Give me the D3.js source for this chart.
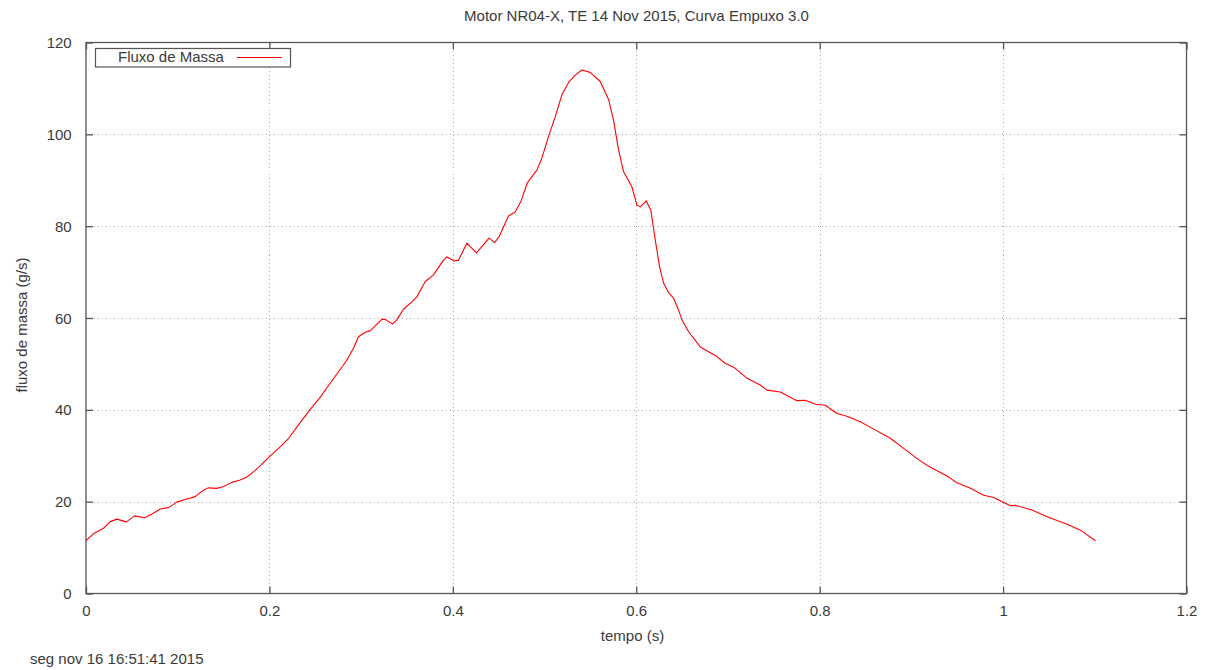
<!DOCTYPE html>
<html>
<head>
<meta charset="utf-8">
<script src="https://cdn.jsdelivr.net/npm/d3@7"></script>
<style>
  html, body { margin: 0; padding: 0; background: #fff; }
  svg { display: block; }
  text { font-family: "Liberation Sans", Arial, sans-serif; fill: #3a3a3a; }
</style>
</head>
<body>
<svg id="chart" width="1211" height="670"></svg>
<script>
// Mass flow measurement: time (s) and mass flow (g/s)
const timeS = [
  0, 0.008, 0.019, 0.026, 0.0335, 0.044, 0.053, 0.064, 0.072, 0.081,
  0.090, 0.099, 0.110, 0.119, 0.126, 0.133, 0.1425, 0.150, 0.159, 0.168,
  0.175, 0.184, 0.191, 0.200, 0.212, 0.221, 0.230, 0.244, 0.2545, 0.2662,
  0.2844, 0.2916, 0.2971, 0.3044, 0.3098, 0.3153, 0.3226, 0.3262, 0.3345, 0.3389,
  0.3462, 0.3553, 0.3607, 0.3698, 0.3789, 0.3898, 0.3935, 0.4015, 0.4062, 0.4153,
  0.4258, 0.4395, 0.4456, 0.4507, 0.4607, 0.468, 0.4744, 0.4814, 0.4916, 0.4971,
  0.5043, 0.5116, 0.5189, 0.5262, 0.5334, 0.5407, 0.5498, 0.5607, 0.5698, 0.5752,
  0.5807, 0.5861, 0.5952, 0.6007, 0.6044, 0.6109, 0.616, 0.6207, 0.6254, 0.6298,
  0.6352, 0.6404, 0.6462, 0.6498, 0.6571, 0.6698, 0.688, 0.6971, 0.7062, 0.7207,
  0.7352, 0.7425, 0.7571, 0.7662, 0.7753, 0.7844, 0.7953, 0.8062, 0.8189, 0.8298,
  0.8443, 0.8589, 0.877, 0.8916, 0.908, 0.9207, 0.9389, 0.9498, 0.9643, 0.9789,
  0.9898, 1.0007, 1.008, 1.0134, 1.0316, 1.048, 1.0698, 1.0843, 1.1007
];
const massFlow = [
  11.5, 13.0, 14.2, 15.6, 16.2, 15.6, 16.9, 16.5, 17.3, 18.4,
  18.7, 19.9, 20.6, 21.1, 22.2, 23.0, 22.9, 23.3, 24.2, 24.7,
  25.3, 26.7, 28.0, 29.8, 32.0, 33.8, 36.3, 40.0, 42.5, 45.8,
  50.8, 53.4, 55.9, 56.9, 57.2, 58.3, 59.7, 59.7, 58.7, 59.6,
  61.9, 63.5, 64.6, 67.9, 69.4, 72.6, 73.3, 72.4, 72.6, 76.3,
  74.2, 77.4, 76.4, 77.8, 82.2, 83.1, 85.5, 89.5, 92.2, 94.8,
  99.5, 103.8, 108.6, 111.3, 112.9, 114.0, 113.5, 111.5, 107.6, 103.1,
  96.6, 91.9, 88.6, 84.6, 84.2, 85.5, 83.4, 77.0, 71.2, 67.6,
  65.5, 64.4, 61.7, 59.6, 57.0, 53.7, 51.6, 50.1, 49.3, 46.9,
  45.4, 44.3, 43.9, 42.9, 42.0, 42.1, 41.2, 41.0, 39.2, 38.6,
  37.4, 35.8, 33.8, 31.6, 29.1, 27.5, 25.6, 24.1, 22.9, 21.4,
  20.9, 19.8, 19.1, 19.2, 18.2, 16.7, 15.1, 13.8, 11.5
];
const xTicks = [0, 0.2, 0.4, 0.6, 0.8, 1, 1.2];
const yTicks = [0, 20, 40, 60, 80, 100, 120];

const titleText = "Motor NR04-X, TE 14 Nov 2015, Curva Empuxo 3.0";
const xLabel = "tempo (s)";
const yLabel = "fluxo de massa (g/s)";
const seriesName = "Fluxo de Massa";
const stamp = "seg nov 16 16:51:41 2015";

const FS = 15;
const svg = d3.select("#chart");
const m = { left: 86, top: 42.5, right: 1186.5, bottom: 593.5 };

const x = d3.scaleLinear().domain([0, 1.2]).range([m.left, m.right]);
const y = d3.scaleLinear().domain([0, 120]).range([m.bottom, m.top]);

const frameColor = "#555";
const tickLen = 7;

// grid (dotted)
const grid = svg.append("g").attr("stroke", "#aaa").attr("stroke-width", 1)
  .attr("stroke-dasharray", "1,3").attr("shape-rendering", "crispEdges");
grid.selectAll("line.gx").data(xTicks.slice(1, -1)).join("line")
  .attr("x1", d => Math.round(x(d)) + 0.5).attr("x2", d => Math.round(x(d)) + 0.5)
  .attr("y1", m.top).attr("y2", m.bottom);
grid.selectAll("line.gy").data(yTicks.slice(1, -1)).join("line")
  .attr("y1", d => Math.round(y(d)) + 0.5).attr("y2", d => Math.round(y(d)) + 0.5)
  .attr("x1", m.left).attr("x2", m.right);

// axes with inward ticks on all four sides
const fmt = d => String(d);
const axB = svg.append("g").attr("transform", `translate(0,${m.bottom})`)
  .call(d3.axisBottom(x).tickValues(xTicks).tickFormat(fmt).tickSizeInner(-tickLen).tickSizeOuter(0));
const axT = svg.append("g").attr("transform", `translate(0,${m.top})`)
  .call(d3.axisTop(x).tickValues(xTicks).tickFormat("").tickSizeInner(-tickLen).tickSizeOuter(0));
const axL = svg.append("g").attr("transform", `translate(${m.left},0)`)
  .call(d3.axisLeft(y).tickValues(yTicks).tickFormat(fmt).tickSizeInner(-tickLen).tickSizeOuter(0));
const axR = svg.append("g").attr("transform", `translate(${m.right},0)`)
  .call(d3.axisRight(y).tickValues(yTicks).tickFormat("").tickSizeInner(-tickLen).tickSizeOuter(0));

[axB, axT, axL, axR].forEach(a => {
  a.select(".domain").remove();
  a.selectAll(".tick line").attr("stroke", frameColor).attr("stroke-width", 1.3);
  a.selectAll("text").attr("font-size", FS).attr("fill", "#3a3a3a")
    .style("font-family", '"Liberation Sans", Arial, sans-serif');
});
axB.selectAll(".tick text").attr("y", 22).attr("dy", 0);
axL.selectAll(".tick text").attr("x", -14.3).attr("dy", 0).attr("y", 5);

// plot frame
svg.append("rect").attr("x", m.left).attr("y", m.top)
  .attr("width", m.right - m.left).attr("height", m.bottom - m.top)
  .attr("fill", "none").attr("stroke", frameColor).attr("stroke-width", 1.3);

// data line
const pts = timeS.map((t, i) => [t, massFlow[i]]);
svg.append("path").datum(pts)
  .attr("fill", "none").attr("stroke", "#ff0000").attr("stroke-width", 1.1)
  .attr("stroke-linejoin", "round")
  .attr("d", d3.line().x(d => x(d[0])).y(d => y(d[1])));

// legend
const lg = svg.append("g");
lg.append("rect").attr("x", 95.5).attr("y", 48.5).attr("width", 195).attr("height", 18.5)
  .attr("fill", "#fff").attr("stroke", frameColor).attr("stroke-width", 1.2);
lg.append("text").attr("x", 118).attr("y", 62.3).attr("font-size", FS).text(seriesName);
lg.append("line").attr("x1", 237).attr("x2", 282).attr("y1", 57.5).attr("y2", 57.5)
  .attr("stroke", "#ff0000").attr("stroke-width", 1);

// titles
svg.append("text").attr("x", 636.5).attr("y", 20.7).attr("text-anchor", "middle")
  .attr("font-size", FS).text(titleText);
svg.append("text").attr("x", 632.5).attr("y", 641).attr("text-anchor", "middle")
  .attr("font-size", FS).text(xLabel);
svg.append("text").attr("transform", "translate(27,325) rotate(-90)")
  .attr("text-anchor", "middle").attr("font-size", FS).text(yLabel);
svg.append("text").attr("x", 30).attr("y", 664).attr("font-size", FS).text(stamp);
</script>
</body>
</html>
